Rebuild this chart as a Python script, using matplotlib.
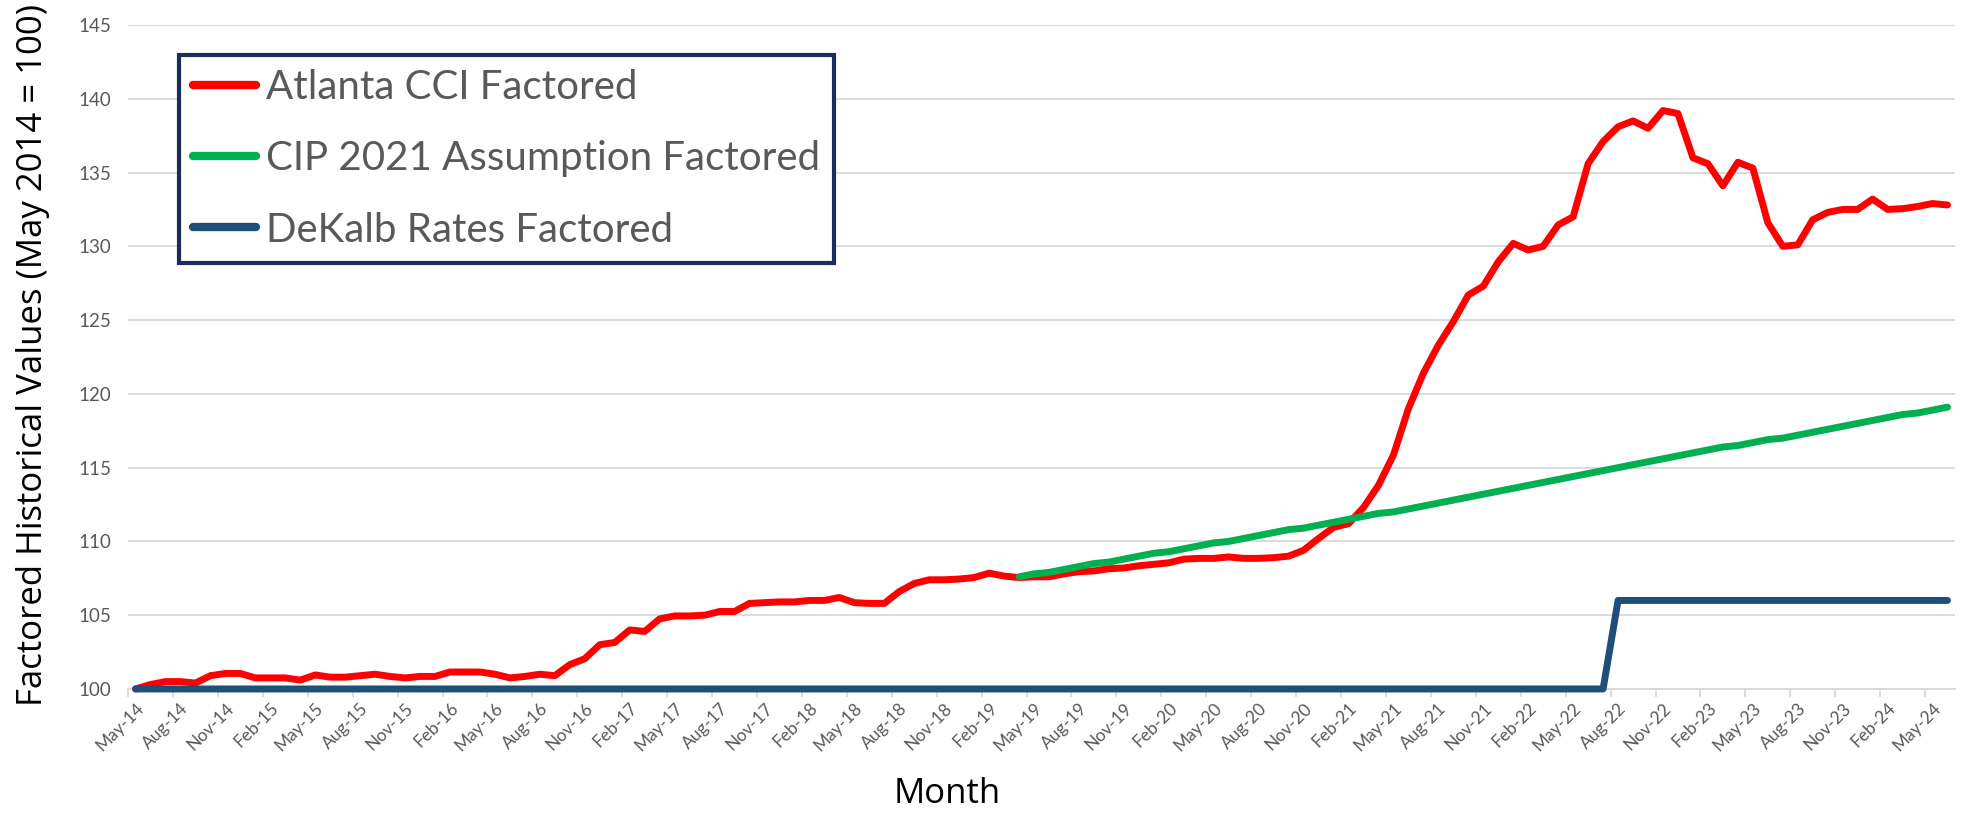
import numpy as np
import pandas as pd
import matplotlib
matplotlib.use('Agg')
import matplotlib.pyplot as plt

# monthly categories, May-14 .. Jun-24
months = pd.date_range('2014-05-01', periods=122, freq='MS').strftime('%b-%y').tolist()

atlanta_cci = [
    100.0, 100.3, 100.5, 100.5, 100.4, 100.9, 101.05, 101.05, 100.75, 100.75,
    100.75, 100.6, 100.95, 100.8, 100.8, 100.9, 101.0, 100.85, 100.75, 100.85,
    100.85, 101.15, 101.15, 101.15, 101.0, 100.75, 100.85, 101.0, 100.9, 101.65,
    102.05, 103.0, 103.15, 104.0, 103.9, 104.75, 104.95, 104.95, 105.0, 105.25,
    105.25, 105.8, 105.85, 105.9, 105.9, 106.0, 106.0, 106.2, 105.85, 105.8,
    105.8, 106.6, 107.15, 107.4, 107.4, 107.45, 107.55, 107.85, 107.65, 107.55,
    107.6, 107.6, 107.8, 107.95, 108.0, 108.15, 108.2, 108.35, 108.45, 108.55,
    108.8, 108.85, 108.85, 108.95, 108.85, 108.85, 108.9, 109.0, 109.4, 110.2,
    110.95, 111.2, 112.3, 113.8, 115.85, 119.0, 121.4, 123.3, 124.9, 126.7,
    127.3, 128.95, 130.2, 129.75, 130.0, 131.45, 132.0, 135.6, 137.1, 138.1,
    138.5, 138.0, 139.2, 139.0, 136.0, 135.6, 134.1, 135.7, 135.3, 131.6,
    130.0, 130.1, 131.8, 132.3, 132.5, 132.5, 133.2, 132.5, 132.55, 132.7,
    132.9, 132.8,
]

# CIP 2021 assumption starts at Apr-19 (index 59)
cip_start = 59
cip_2021 = [
    107.6, 107.8, 107.9, 108.1, 108.3, 108.5, 108.6, 108.8, 109.0, 109.2,
    109.3, 109.5, 109.7, 109.9, 110.0, 110.2, 110.4, 110.6, 110.8, 110.9,
    111.1, 111.3, 111.5, 111.7, 111.9, 112.0, 112.2, 112.4, 112.6, 112.8,
    113.0, 113.2, 113.4, 113.6, 113.8, 114.0, 114.2, 114.4, 114.6, 114.8,
    115.0, 115.2, 115.4, 115.6, 115.8, 116.0, 116.2, 116.4, 116.5, 116.7,
    116.9, 117.0, 117.2, 117.4, 117.6, 117.8, 118.0, 118.2, 118.4, 118.6,
    118.7, 118.9, 119.1,
]

dekalb = [100.0] * 99 + [106.0] * 23

labels = ['Atlanta CCI Factored', 'CIP 2021 Assumption Factored', 'DeKalb Rates Factored']
colors = ['#FF0000', '#00B050', '#1F4E79']

fig = plt.figure(figsize=(19.67, 8.14), dpi=100)
ax = fig.add_axes([0.0651, 0.1536, 0.9288, 0.8157])

x = np.arange(len(months))
kw = dict(linewidth=5, solid_joinstyle='round', solid_capstyle='round', clip_on=False)
ax.plot(x, atlanta_cci, color=colors[0], label=labels[0], zorder=3, **kw)
ax.plot(np.arange(cip_start, cip_start + len(cip_2021)), cip_2021,
        color=colors[1], label=labels[1], zorder=4, **kw)
ax.plot(x, dekalb, color=colors[2], label=labels[2], zorder=5, **kw)

ax.set_xlim(-0.5, len(months) - 0.5)
ax.set_ylim(100, 145)
ax.set_yticks(np.arange(100, 146, 5))
ax.yaxis.grid(True, color='#D9D9D9', linewidth=1.3)
ax.set_axisbelow(True)
for s in ['top', 'right', 'left']:
    ax.spines[s].set_visible(False)
ax.spines['bottom'].set_color('#D9D9D9')
ax.spines['bottom'].set_linewidth(1.3)

# tick marks between categories, labels on every 3rd category
ax.set_xticks(np.arange(-0.5, len(months), 3))
ax.set_xticklabels([])
ax.tick_params(axis='x', which='major', length=6, width=1.3, color='#D9D9D9')
ax.set_xticks(x[::3], minor=True)
ax.set_xticklabels(months[::3], minor=True, rotation=45, ha='right',
                   rotation_mode='anchor', fontsize=12.5, color='#595959', family='Lato')
ax.tick_params(axis='x', which='minor', length=0, pad=8)
ax.tick_params(axis='y', length=0, pad=12, labelsize=13.5, labelcolor='#595959')
for t in ax.get_yticklabels():
    t.set_family('Lato')

fig.text(0.017, 0.564, 'Factored Historical Values (May 2014 = 100)', rotation=90,
         ha='center', va='center', fontsize=25, family='Open Sans')
fig.text(0.4815, 0.0246, 'Month', ha='center', va='center', fontsize=25, family='Open Sans')

leg = ax.legend(loc='upper left', bbox_to_anchor=(0.091, 0.9324), bbox_transform=fig.transFigure,
                borderaxespad=0, fancybox=False, framealpha=1, edgecolor='#1C2A5C',
                prop={'family': 'Lato', 'size': 29}, labelcolor='#595959',
                handlelength=1.55, handletextpad=0.25, labelspacing=0.85, borderpad=0.35)
leg.get_frame().set_linewidth(3)
for h in leg.get_lines():
    h.set_linewidth(6)
    h.set_solid_capstyle('round')

fig.savefig('out.png', dpi=100)
